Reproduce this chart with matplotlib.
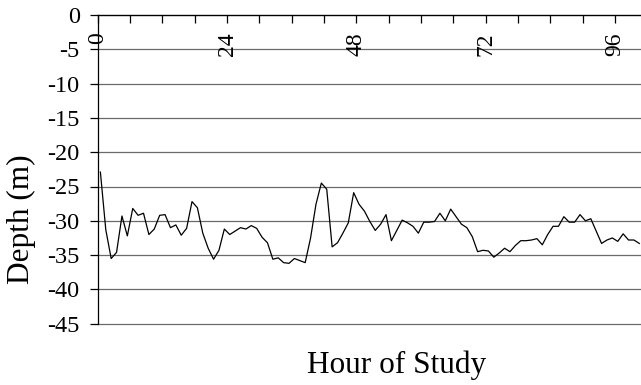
import matplotlib
matplotlib.use('Agg')
import matplotlib.pyplot as plt
import numpy as np

plt.rcParams['font.family'] = ['Liberation Serif', 'DejaVu Serif']

hours = np.arange(101)
depth = [
    -22.9, -31.3, -35.5, -34.6, -29.3, -32.2, -28.2, -29.2, -28.9, -32.0,
    -31.2, -29.2, -29.1, -31.0, -30.6, -32.1, -31.1, -27.2, -28.1, -31.8,
    -34.0, -35.6, -34.3, -31.2, -32.0, -31.5, -31.0, -31.2, -30.7, -31.1,
    -32.4, -33.2, -35.6, -35.4, -36.1, -36.2, -35.5, -35.8, -36.1, -32.5,
    -27.6, -24.5, -25.4, -33.8, -33.2, -31.8, -30.3, -25.9, -27.6, -28.6,
    -30.1, -31.4, -30.5, -29.1, -32.9, -31.4, -29.9, -30.3, -30.8, -31.8,
    -30.2, -30.2, -30.1, -28.9, -30.0, -28.3, -29.4, -30.5, -31.0, -32.3,
    -34.5, -34.3, -34.4, -35.3, -34.7, -34.0, -34.5, -33.6, -32.9, -32.9,
    -32.8, -32.6, -33.5, -32.0, -30.8, -30.8, -29.4, -30.2, -30.2, -29.1,
    -30.0, -29.7, -31.5, -33.3, -32.8, -32.5, -33.0, -31.9, -32.8, -32.8,
    -33.3,
]
x_label_hours = [0, 24, 48, 72, 96]
x_tick_labels = ['0', '24', '48', '72', '96']
x_minor_hours = list(range(0, 101, 6))
y_ticks = [0, -5, -10, -15, -20, -25, -30, -35, -40, -45]
y_tick_labels = ['0', '-5', '-10', '-15', '-20', '-25', '-30', '-35', '-40', '-45']

fig = plt.figure(figsize=(6.41, 3.85), dpi=100)
ax = fig.add_axes([97.7 / 641, (385 - 323.7) / 385, (642 - 97.7) / 641, (323.7 - 15) / 385])

ax.plot(hours, depth, color='black', lw=0.9, zorder=3)
ax.set_xlim(-0.5, 100.5)
ax.set_ylim(-45, 0)

ax.set_yticks(y_ticks)
ax.set_yticklabels(y_tick_labels, fontsize=17.5)
ax.yaxis.grid(True, color='#6a6a6a', lw=0.9)
for gl in ax.get_ygridlines():
    gl.set_clip_on(False)
ax.set_axisbelow(True)

for s in ['right', 'bottom']:
    ax.spines[s].set_visible(False)
for s in ['top', 'left']:
    ax.spines[s].set_linewidth(0.9)

ax.xaxis.tick_top()
ax.set_xticks([h - 0.5 for h in x_minor_hours])
ax.tick_params(axis='x', direction='in', length=6, width=0.9, labeltop=False, labelbottom=False)
ax.tick_params(axis='y', direction='out', length=6, width=0.9, pad=7)

for h, lab in zip(x_label_hours, x_tick_labels):
    ax.text(h - 0.5, -2.5, lab, rotation=90, ha='center', va='top', fontsize=17)

fig.text(0.034, 0.431, 'Depth (m)', rotation=90, ha='center', va='center', fontsize=22.5)
fig.text(0.619, 0.03, 'Hour of Study', ha='center', va='baseline', fontsize=22.5)

fig.savefig('out.png', dpi=100)
